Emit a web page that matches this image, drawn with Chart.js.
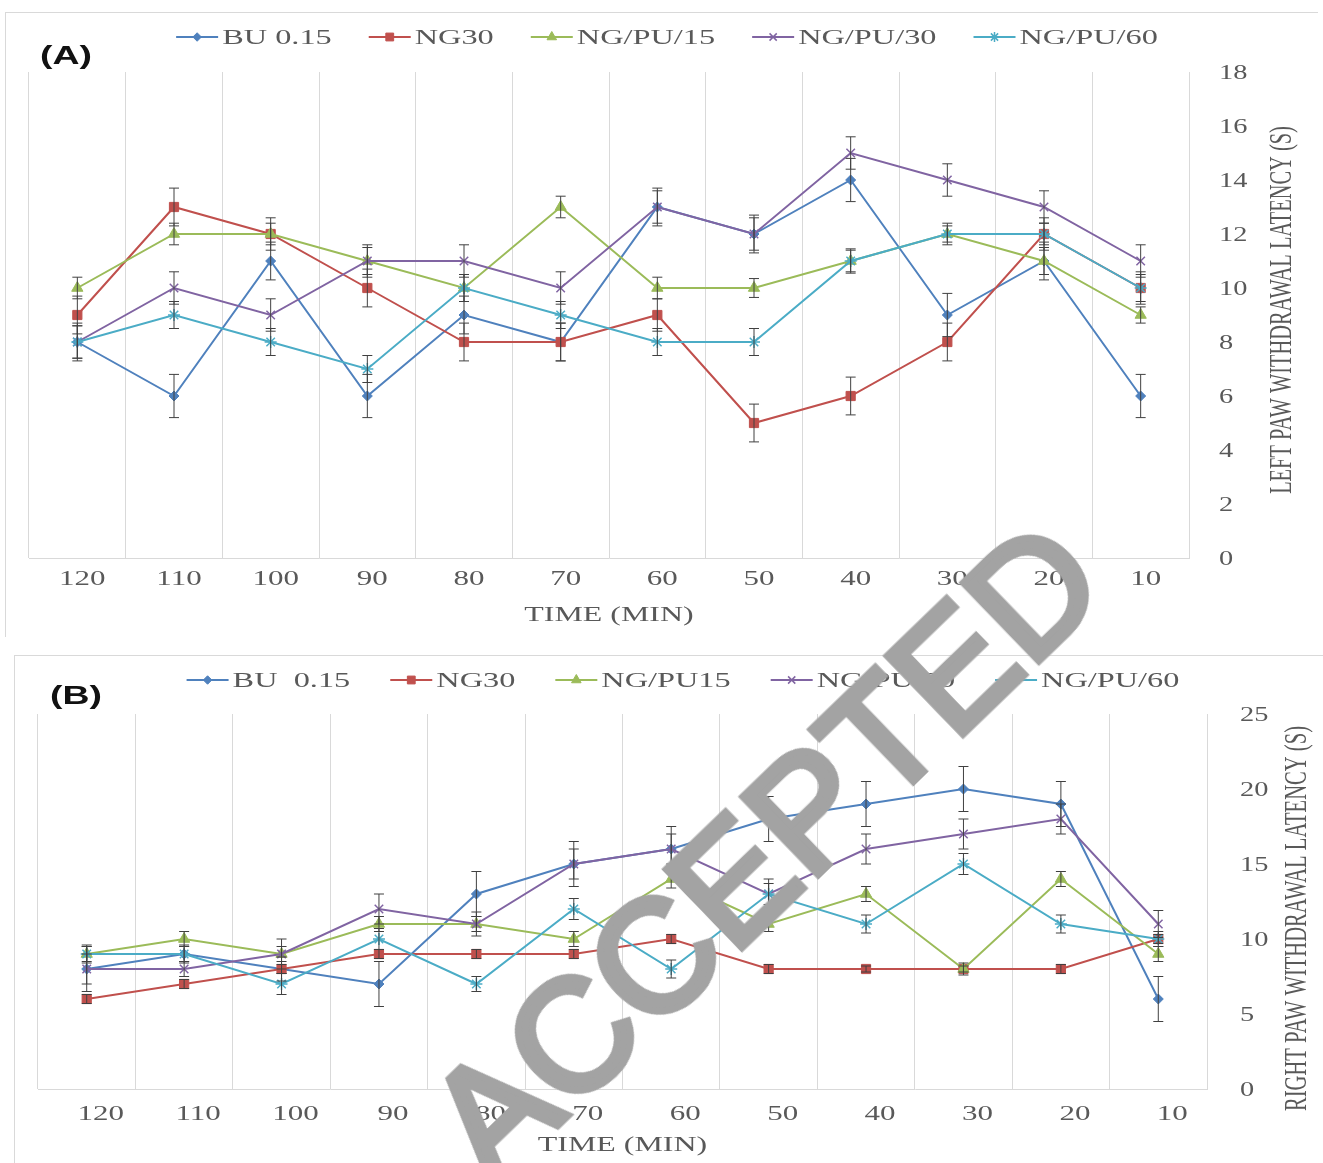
<!DOCTYPE html>
<html>
<head>
<meta charset="utf-8">
<title>Paw withdrawal latency</title>
<script src="https://cdn.jsdelivr.net/npm/chart.js@4.4.1/dist/chart.umd.min.js"></script>
<style>
  html, body { margin: 0; padding: 0; background: #ffffff; }
  body { width: 1323px; height: 1163px; position: relative; overflow: hidden; }
  .panel { position: absolute; border-top: 1px solid #d9d9d9; border-left: 1px solid #d9d9d9; }
  #panelA { left: 5px; top: 12px; width: 1312px; height: 624px; }
  #panelB { left: 14px; top: 655px; width: 1309px; height: 520px; }
  .wrap { position: absolute; left: 0; width: 1323px; }
  #wrapA { top: 0; height: 640px; }
  #wrapB { top: 645px; height: 518px; }
  .stamp {
    position: absolute; left: 764px; top: 850px;
    transform: translate(-50%, -50%) rotate(-44deg);
    font-family: "Liberation Sans", Arial, sans-serif; font-size: 158px; line-height: 1;
    color: #a3a3a3; -webkit-text-stroke: 7px #a3a3a3;
    white-space: nowrap; pointer-events: none;
  }
</style>
</head>
<body>
<div id="panelA" class="panel"></div>
<div id="panelB" class="panel"></div>
<div class="wrap" id="wrapA"><canvas id="chartA" width="1323" height="640"></canvas></div>
<div class="wrap" id="wrapB"><canvas id="chartB" width="1323" height="518"></canvas></div>
<div class="stamp">ACCEPTED</div>

<script>
// ---- time points (minutes) shared by both panels ----
const timeLabels = ['120', '110', '100', '90', '80', '70', '60', '50', '40', '30', '20', '10'];

// ---- panel A: left paw withdrawal latency (s) ----
const leftNames     = ['BU 0.15', 'NG30', 'NG/PU/15', 'NG/PU/30', 'NG/PU/60'];
const leftBU        = [8, 6, 11, 6, 9, 8, 13, 12, 14, 9, 11, 6];
const leftNG30      = [9, 13, 12, 10, 8, 8, 9, 5, 6, 8, 12, 10];
const leftNGPU15    = [10, 12, 12, 11, 10, 13, 10, 10, 11, 12, 11, 9];
const leftNGPU30    = [8, 10, 9, 11, 11, 10, 13, 12, 15, 14, 13, 11];
const leftNGPU60    = [8, 9, 8, 7, 10, 9, 8, 8, 11, 12, 12, 10];
const leftBUErr     = [0.7, 0.8, 0.7, 0.8, 0.7, 0.7, 0.7, 0.7, 0.8, 0.8, 0.7, 0.8];
const leftNG30Err   = [0.7, 0.7, 0.6, 0.7, 0.7, 0.7, 0.6, 0.7, 0.7, 0.7, 0.6, 0.6];
const leftNGPU15Err = [0.4, 0.4, 0.4, 0.5, 0.5, 0.4, 0.4, 0.35, 0.4, 0.4, 0.5, 0.3];
const leftNGPU30Err = [0.6, 0.6, 0.6, 0.6, 0.6, 0.6, 0.6, 0.6, 0.6, 0.6, 0.6, 0.6];
const leftNGPU60Err = [0.6, 0.5, 0.5, 0.5, 0.5, 0.5, 0.5, 0.5, 0.45, 0.3, 0.4, 0.5];
const leftTicks     = [0, 2, 4, 6, 8, 10, 12, 14, 16, 18];

// ---- panel B: right paw withdrawal latency (s) ----
const rightNames     = ['BU  0.15', 'NG30', 'NG/PU15', 'NG/PU/30', 'NG/PU/60'];
const rightBU        = [8, 9, 8, 7, 13, 15, 16, 18, 19, 20, 19, 6];
const rightNG30      = [6, 7, 8, 9, 9, 9, 10, 8, 8, 8, 8, 10];
const rightNGPU15    = [9, 10, 9, 11, 11, 10, 14, 11, 13, 8, 14, 9];
const rightNGPU30    = [8, 8, 9, 12, 11, 15, 16, 13, 16, 17, 18, 11];
const rightNGPU60    = [9, 9, 7, 10, 7, 12, 8, 13, 11, 15, 11, 10];
const rightBUErr     = [1.5, 0.6, 0.8, 1.5, 1.5, 1.5, 1.5, 1.5, 1.5, 1.5, 1.5, 1.5];
const rightNG30Err   = [0.3, 0.3, 0.3, 0.3, 0.3, 0.3, 0.3, 0.3, 0.2, 0.2, 0.3, 0.3];
const rightNGPU15Err = [0.6, 0.5, 0.5, 0.5, 0.5, 0.5, 0.6, 0.5, 0.5, 0.4, 0.5, 0.5];
const rightNGPU30Err = [1.0, 0.5, 1.0, 1.0, 0.8, 1.0, 1.0, 1.0, 1.0, 1.0, 1.0, 0.9];
const rightNGPU60Err = [0.5, 0.5, 0.7, 0.7, 0.5, 0.7, 0.6, 0.7, 0.6, 0.7, 0.6, 0.5];
const rightTicks     = [0, 5, 10, 15, 20, 25];

// ---- styling ----
const SERIF = '"Liberation Serif", "Times New Roman", serif';
const SANS = '"Liberation Sans", Arial, sans-serif';
const INK = '#595959';
const seriesColors = ['#4F81BD', '#C0504D', '#9BBB59', '#8064A2', '#4BACC6'];
const seriesMarkers = [
  { style: 'rectRot', radius: 5 },
  { style: 'rect', radius: 6.5 },
  { style: 'triangle', radius: 6.5 },
  { style: 'crossRot', radius: 6 },
  { style: 'star', radius: 6 }
];

// Text drawn with a horizontal stretch (wide figure lettering).
function stretchedText(ctx, text, x, midY, size, family, weight, sx, align, color, midFactor) {
  ctx.save();
  ctx.font = `${weight} ${size}px ${family}`;
  ctx.fillStyle = color;
  ctx.textAlign = 'left';
  ctx.textBaseline = 'alphabetic';
  const w = ctx.measureText(text).width * sx;
  const left = align === 'center' ? x - w / 2 : (align === 'right' ? x - w : x);
  ctx.translate(left, midY + (midFactor == null ? 0.335 : midFactor) * size);
  ctx.scale(sx, 1);
  ctx.fillText(text, 0, 0);
  ctx.restore();
  return w;
}

function isStroked(style) { return style === 'crossRot' || style === 'cross' || style === 'star'; }

// Mean ± SD whiskers, positioned through the chart's own scales.
const errorBars = {
  id: 'errorBars',
  afterDatasetsDraw(chart, args, opts) {
    const { ctx } = chart;
    const yScale = chart.scales.y;
    ctx.save();
    ctx.strokeStyle = opts.color;
    ctx.lineWidth = opts.width;
    chart.data.datasets.forEach((ds, di) => {
      const meta = chart.getDatasetMeta(di);
      ds.data.forEach((v, i) => {
        const e = ds.errors[i];
        const px = meta.data[i].x;
        const top = yScale.getPixelForValue(v + e);
        const bot = yScale.getPixelForValue(v - e);
        const c = opts.cap / 2;
        ctx.beginPath();
        ctx.moveTo(px, top); ctx.lineTo(px, bot);
        ctx.moveTo(px - c, top); ctx.lineTo(px + c, top);
        ctx.moveTo(px - c, bot); ctx.lineTo(px + c, bot);
        ctx.stroke();
      });
    });
    ctx.restore();
  }
};

// Axis labels, titles, legend and panel tag.
const paperText = {
  id: 'paperText',
  afterDraw(chart, args, o) {
    const { ctx, chartArea: a, scales } = chart;
    const xs = scales.x, ys = scales.y;

    o.yTicks.forEach(v => {
      stretchedText(ctx, String(v), a.right + o.yTickGap, ys.getPixelForValue(v), 20, SERIF, 'normal', 1.42, 'left', INK);
    });
    chart.data.labels.forEach((lab, i) => {
      stretchedText(ctx, lab, xs.getPixelForValue(i) + o.xTickShift, a.bottom + o.xTickDrop, 20, SERIF, 'normal', 1.55, 'center', INK);
    });
    stretchedText(ctx, o.xTitle, (a.left + a.right) / 2, a.bottom + o.xTitleDrop, 21, SERIF, 'normal', 1.52, 'center', INK);

    // vertical title, reading bottom to top
    ctx.save();
    ctx.translate(a.right + o.yTitleGap, (a.top + a.bottom) / 2 + o.yTitleShift);
    ctx.rotate(-Math.PI / 2);
    ctx.scale(o.yTitleLen, 1.6);
    ctx.font = `20px ${SERIF}`;
    ctx.fillStyle = INK;
    ctx.textAlign = 'center';
    ctx.textBaseline = 'alphabetic';
    ctx.fillText(o.yTitle, 0, 0.335 * 20);
    ctx.restore();

    // legend: line segment with marker, then the series name
    const LINE = 42, PAD = 4, SX = 1.47;
    ctx.save();
    ctx.font = `22px ${SERIF}`;
    const widths = chart.data.datasets.map(d => ctx.measureText(d.label).width * SX);
    ctx.restore();
    const n = widths.length;
    const total = widths.reduce((s, w) => s + w + LINE + PAD, 0) + o.legendGap * (n - 1);
    let cx = o.legendCenter - total / 2;
    const ly = a.top + o.legendRise;
    chart.data.datasets.forEach((d, i) => {
      ctx.save();
      ctx.strokeStyle = d.borderColor;
      ctx.fillStyle = d.backgroundColor;
      ctx.lineWidth = 2;
      ctx.beginPath();
      ctx.moveTo(cx, ly); ctx.lineTo(cx + LINE, ly);
      ctx.stroke();
      ctx.lineWidth = d.pointBorderWidth;
      Chart.helpers.drawPoint(ctx, {
        pointStyle: d.pointStyle, radius: d.pointRadius * 0.85, borderWidth: d.pointBorderWidth, rotation: 0
      }, cx + LINE / 2, ly);
      ctx.restore();
      stretchedText(ctx, d.label, cx + LINE + PAD, ly, 22, SERIF, 'normal', SX, 'left', INK);
      cx += LINE + PAD + widths[i] + o.legendGap;
    });

    stretchedText(ctx, o.tag, o.tagX, o.tagY, 26, SANS, 'bold', 1.44, 'left', '#111111', 0.27);
  }
};

function buildDatasets(names, values, errors) {
  return names.map((name, i) => ({
    label: name,
    data: values[i],
    errors: errors[i],
    borderColor: seriesColors[i],
    backgroundColor: seriesColors[i],
    borderWidth: 2,
    tension: 0,
    order: names.length - i,
    pointStyle: seriesMarkers[i].style,
    pointRadius: seriesMarkers[i].radius,
    pointHoverRadius: seriesMarkers[i].radius,
    pointBackgroundColor: seriesColors[i],
    pointBorderColor: seriesColors[i],
    pointBorderWidth: isStroked(seriesMarkers[i].style) ? 1.5 : 1
  }));
}

function buildChart(canvasId, datasets, yMax, padding, text) {
  return new Chart(document.getElementById(canvasId), {
    type: 'line',
    data: { labels: timeLabels, datasets },
    options: {
      responsive: false,
      animation: false,
      events: [],
      layout: { padding },
      scales: {
        x: {
          type: 'category',
          offset: true,
          grid: { display: true, offset: true, color: '#d9d9d9', lineWidth: 1, drawTicks: false },
          border: { display: true, color: '#d9d9d9', width: 1 },
          ticks: { display: false }
        },
        y: {
          display: false,
          position: 'right',
          min: 0,
          max: yMax
        }
      },
      plugins: {
        legend: { display: false },
        tooltip: { enabled: false },
        errorBars: { color: '#404040', width: 1, cap: 10 },
        paperText: text
      }
    },
    plugins: [errorBars, paperText]
  });
}

buildChart('chartA',
  buildDatasets(leftNames,
    [leftBU, leftNG30, leftNGPU15, leftNGPU30, leftNGPU60],
    [leftBUErr, leftNG30Err, leftNGPU15Err, leftNGPU30Err, leftNGPU60Err]),
  18,
  { left: 29, right: 134, top: 72, bottom: 82 },
  {
    yTicks: leftTicks, yTickGap: 30,
    xTickShift: 5, xTickDrop: 20,
    xTitle: 'TIME (MIN)', xTitleDrop: 56,
    yTitle: 'LEFT PAW WITHDRAWAL LATENCY (S)', yTitleGap: 91, yTitleShift: -5, yTitleLen: 1.02,
    legendCenter: 667, legendRise: -35, legendGap: 37,
    tag: '(A)', tagX: 40, tagY: 57
  });

buildChart('chartB',
  buildDatasets(rightNames,
    [rightBU, rightNG30, rightNGPU15, rightNGPU30, rightNGPU60],
    [rightBUErr, rightNG30Err, rightNGPU15Err, rightNGPU30Err, rightNGPU60Err]),
  25,
  { left: 38, right: 116, top: 69, bottom: 74 },
  {
    yTicks: rightTicks, yTickGap: 33,
    xTickShift: 14, xTickDrop: 24.5,
    xTitle: 'TIME (MIN)', xTitleDrop: 55,
    yTitle: 'RIGHT PAW WITHDRAWAL LATENCY (S)', yTitleGap: 88, yTitleShift: 17, yTitleLen: 1.03,
    legendCenter: 683, legendRise: -34, legendGap: 40,
    tag: '(B)', tagX: 50, tagY: 52
  });
</script>
</body>
</html>
